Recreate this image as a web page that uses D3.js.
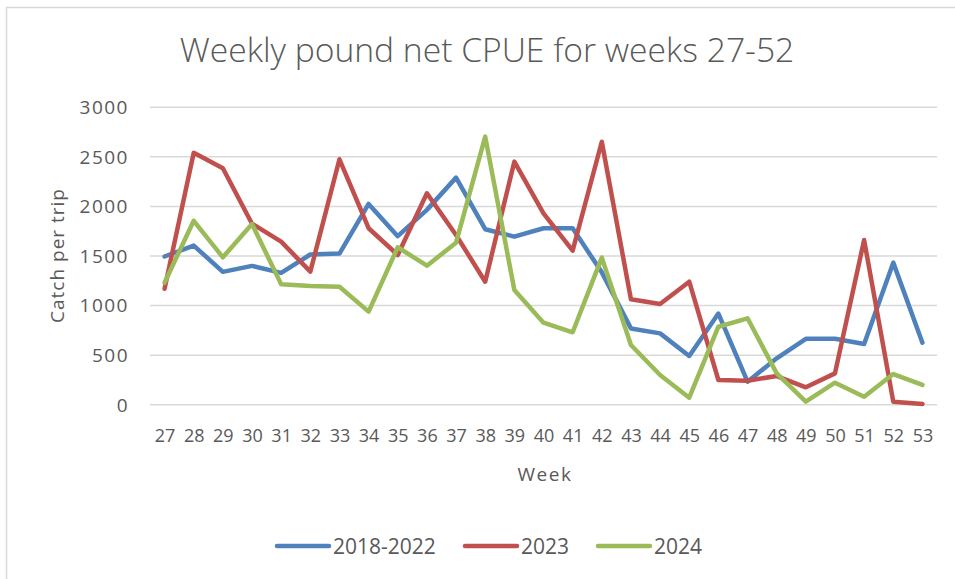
<!DOCTYPE html>
<html>
<head>
<meta charset="utf-8">
<script src="https://cdn.jsdelivr.net/npm/d3@7"></script>
<style>
  html, body { margin: 0; padding: 0; background: #ffffff; }
  svg { display: block; }
  text { font-family: "Open Sans", "Noto Sans", sans-serif; fill: #595959; }
</style>
</head>
<body>
<svg id="chart" width="955" height="579"></svg>
<script>
const weeks = [27,28,29,30,31,32,33,34,35,36,37,38,39,40,41,42,43,44,45,46,47,48,49,50,51,52,53];
const seriesNames = ["2018-2022", "2023", "2024"];
const values2018_2022 = [1490,1600,1335,1395,1325,1510,1520,2020,1695,1960,2285,1765,1690,1775,1775,1330,765,715,487,915,228,464,660,660,608,1428,621];
const values2023 = [1165,2535,2380,1820,1640,1337,2470,1775,1505,2127,1706,1236,2446,1925,1549,2647,1058,1011,1236,245,238,285,171,312,1656,26,3];
const values2024 = [1226,1850,1482,1817,1210,1192,1185,934,1583,1397,1629,2698,1152,823,726,1478,598,295,67,782,867,312,26,218,77,305,195];
const yTicks = [0,500,1000,1500,2000,2500,3000];
const colors = ["#4F81BD", "#C0504D", "#9BBB59"];
const titleText = "Weekly pound net CPUE for weeks 27-52";
const xTitle = "Week";
const yTitle = "Catch per trip";

const svg = d3.select("#chart");

// chart area border (light)
svg.append("line").attr("x1", 6).attr("x2", 955).attr("y1", 7.5).attr("y2", 7.5)
  .attr("stroke", "#d9d9d9").attr("stroke-width", 1.5);
svg.append("line").attr("x1", 6.5).attr("x2", 6.5).attr("y1", 7).attr("y2", 579)
  .attr("stroke", "#d9d9d9").attr("stroke-width", 1.5);

const x = d3.scalePoint().domain(weeks).range([150, 937]).padding(0.5);
const y = d3.scaleLinear().domain([0, 3000]).range([404.3, 106.7]);

// gridlines
const yAxis = d3.axisLeft(y).tickValues(yTicks).tickSize(-(937 - 150)).tickPadding(22).tickFormat(d3.format("d"));
const gy = svg.append("g").attr("transform", "translate(150,0)").call(yAxis);
gy.select(".domain").remove();
gy.selectAll(".tick line").attr("stroke", "#d9d9d9").attr("stroke-width", 1.5);
gy.selectAll(".tick text").attr("font-size", 19).attr("letter-spacing", "1.5px")
  .attr("fill", "#595959").attr("dy", "0.36em").attr("x", -21);

const xAxis = d3.axisBottom(x).tickSize(0).tickPadding(0);
const gx = svg.append("g").attr("transform", "translate(0,404.3)").call(xAxis);
gx.select(".domain").remove();
gx.selectAll(".tick text").attr("font-size", 18).attr("fill", "#595959")
  .attr("dy", null).attr("y", 38);

// lines
const all = [values2018_2022, values2023, values2024];
const line = d3.line().x((d, i) => x(weeks[i])).y(d => y(d));
all.forEach((vals, k) => {
  svg.append("path").datum(vals).attr("d", line)
    .attr("fill", "none").attr("stroke", colors[k]).attr("stroke-width", 4.5)
    .attr("stroke-linejoin", "round").attr("stroke-linecap", "round");
});

// title
const t = svg.append("text").text(titleText).attr("x", 487).attr("y", 62)
  .attr("text-anchor", "middle").attr("font-weight", 300).attr("font-size", 30);
const tw = t.node().getComputedTextLength();
t.attr("font-size", 30 * 615 / tw);

// axis titles
svg.append("text").text(xTitle).attr("x", 545).attr("y", 481).attr("text-anchor", "middle")
  .attr("font-size", 19).attr("letter-spacing", "1.5px");
svg.append("text").text(yTitle).attr("transform", "translate(64,255.5) rotate(-90)")
  .attr("text-anchor", "middle").attr("font-size", 19).attr("letter-spacing", "1px");

// legend
const legendX = [276, 464, 597];
seriesNames.forEach((name, k) => {
  const g = svg.append("g").attr("transform", `translate(${legendX[k]},546)`);
  g.append("line").attr("x1", 1).attr("x2", 53).attr("y1", 0).attr("y2", 0)
    .attr("stroke", colors[k]).attr("stroke-width", 4.5).attr("stroke-linecap", "round");
  g.append("text").text(name).attr("x", 57).attr("y", 7.5).attr("font-size", 21);
});
</script>
</body>
</html>
